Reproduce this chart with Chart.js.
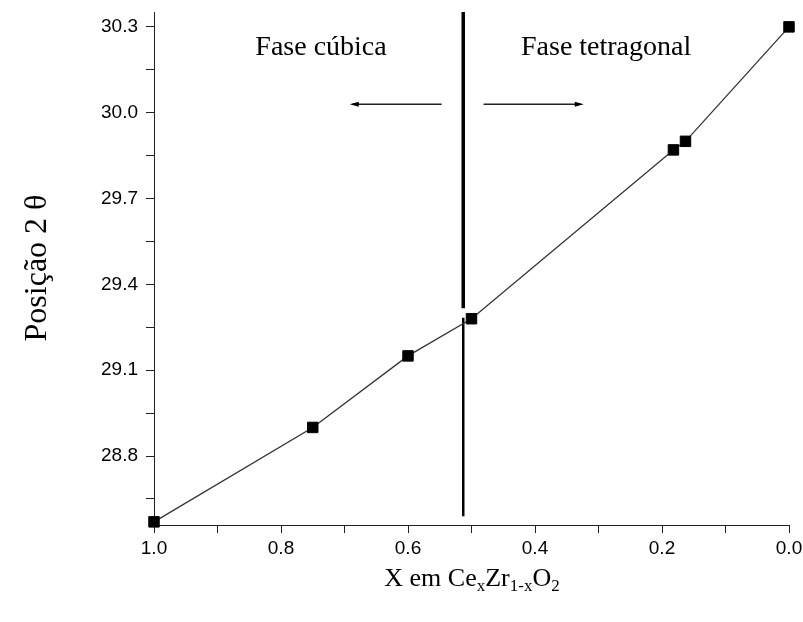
<!DOCTYPE html>
<html>
<head>
<meta charset="utf-8">
<script src="https://cdn.jsdelivr.net/npm/chart.js@4.4.1/dist/chart.umd.min.js"></script>
<style>
  html, body { margin: 0; padding: 0; background: #fff; }
  #wrap { width: 803px; height: 622px; }
</style>
</head>
<body>
<div id="wrap"><canvas id="cezr"></canvas></div>
<script>
// ---- data ----
const xValues = [1.0, 0.75, 0.6, 0.5, 0.182, 0.163, 0.0]
const yValues = [28.57, 28.90, 29.15, 29.28, 29.87, 29.90, 30.30]

const xTicks = [0, 0.1, 0.2, 0.3, 0.4, 0.5, 0.6, 0.7, 0.8, 0.9, 1.0]
const xMajor = [0, 0.2, 0.4, 0.6, 0.8, 1.0]
const yTicks = [28.65, 28.8, 28.95, 29.1, 29.25, 29.4, 29.55, 29.7, 29.85, 30.0, 30.15, 30.3]
const yMajor = [28.8, 29.1, 29.4, 29.7, 30.0, 30.3]

// phase boundary (vertical bar) and arrows
const boundaryX = 0.513
const boundaryUpper = [30.352, 29.317]
const boundaryLower = [29.283, 28.59]
const arrowY = 30.03
const arrowLeft = [0.547, 0.687]
const arrowRight = [0.481, 0.328]
const phaseLabels = ["Fase cúbica", "Fase tetragonal"]
const phaseLabelX = [0.737, 0.288]
const phaseLabelY = 30.2

const isIn = (list, v) => list.some(m => Math.abs(m - v) < 1e-6)

/////////// extra drawing: arrow heads, phase texts, axis titles ///////////
const decorPlugin = {
    id: "decor",
    afterDatasetsDraw(chart) {
        const ctx = chart.ctx
        const xs = chart.scales.x
        const ys = chart.scales.y
        ctx.save()
        // arrow heads
        ctx.fillStyle = "#000"
        const heads = [[arrowLeft[1], -1], [arrowRight[1], 1]]
        heads.forEach(([xv, dir]) => {
            const px = xs.getPixelForValue(xv)
            const py = ys.getPixelForValue(arrowY)
            ctx.beginPath()
            ctx.moveTo(px + dir * 3, py)
            ctx.lineTo(px - dir * 6, py - 2.5)
            ctx.lineTo(px - dir * 6, py + 2.5)
            ctx.closePath()
            ctx.fill()
        })
        // phase texts
        ctx.font = "28px 'Liberation Serif'"
        ctx.textAlign = "center"
        ctx.textBaseline = "alphabetic"
        phaseLabels.forEach((t, i) => {
            ctx.fillText(t, xs.getPixelForValue(phaseLabelX[i]), ys.getPixelForValue(phaseLabelY))
        })
        ctx.restore()
    },
    afterDraw(chart) {
        const ctx = chart.ctx
        ctx.save()
        ctx.fillStyle = "#000"
        // y title
        ctx.font = "32px 'Liberation Serif'"
        ctx.textAlign = "center"
        ctx.textBaseline = "middle"
        ctx.translate(38, 268)
        ctx.rotate(-Math.PI / 2)
        ctx.fillText("Posição 2 θ", 0, 0)
        ctx.restore()

        // x title with subscripts
        ctx.save()
        ctx.fillStyle = "#000"
        ctx.textBaseline = "alphabetic"
        ctx.textAlign = "left"
        const parts = [["X em Ce", false], ["x", true], ["Zr", false], ["1-x", true], ["O", false], ["2", true]]
        const big = "26px 'Liberation Serif'"
        const small = "17px 'Liberation Serif'"
        let total = 0
        parts.forEach(([t, sub]) => { ctx.font = sub ? small : big; total += ctx.measureText(t).width })
        let cx = 472 - total / 2
        const base = 586
        parts.forEach(([t, sub]) => {
            ctx.font = sub ? small : big
            ctx.fillText(t, cx, sub ? base + 5 : base)
            cx += ctx.measureText(t).width
        })
        ctx.restore()
    }
}

const seg = (x1, y1, x2, y2) => [{x: x1, y: y1}, {x: x2, y: y2}]

let ctx = document.getElementById("cezr").getContext("2d")
const myChart = new Chart(ctx, {
    type: "scatter",
    data: {
        datasets: [{
            label: "CexZr1-xO2",
            data: xValues.map((x, i) => ({x: x, y: yValues[i]})),
            showLine: true,
            borderColor: "#333",
            borderWidth: 1.3,
            pointStyle: "rect",
            pointRadius: 7.4,
            pointBackgroundColor: "#000",
            pointBorderColor: "#000",
            pointBorderWidth: 1,
            clip: false,
            order: 0
        }, {
            data: seg(boundaryX, boundaryUpper[0], boundaryX, boundaryUpper[1]),
            showLine: true, borderColor: "#000", borderWidth: 3.5, pointRadius: 0, clip: false, order: 1
        }, {
            data: seg(boundaryX, boundaryLower[0], boundaryX, boundaryLower[1]),
            showLine: true, borderColor: "#000", borderWidth: 2.5, pointRadius: 0, clip: false, order: 1
        }, {
            data: seg(arrowLeft[0], arrowY, arrowLeft[1], arrowY),
            showLine: true, borderColor: "#222", borderWidth: 1.5, pointRadius: 0, order: 1
        }, {
            data: seg(arrowRight[0], arrowY, arrowRight[1], arrowY),
            showLine: true, borderColor: "#222", borderWidth: 1.5, pointRadius: 0, order: 1
        }]
    },
    options: {
        responsive: true,
        maintainAspectRatio: false,
        animation: false,
        layout: { padding: { top: 12, right: 14, bottom: 0, left: 0 } },
        plugins: {
            legend: { display: false },
            tooltip: { enabled: false }
        },
        scales: {
            x: {
                type: "linear",
                reverse: true,
                min: 0,
                max: 1,
                afterBuildTicks: axis => { axis.ticks = xTicks.map(v => ({value: v})) },
                afterFit: axis => { axis.height = 97; axis.paddingLeft = 0; axis.paddingRight = 0 },
                grid: { drawOnChartArea: false, drawTicks: true, tickLength: 8, tickColor: "#222" },
                border: { display: true, color: "#222", width: 1 },
                ticks: {
                    autoSkip: false,
                    maxRotation: 0,
                    padding: 4,
                    color: "#000",
                    font: { family: "'Liberation Sans', Arial", size: 19 },
                    callback: v => isIn(xMajor, v) ? v.toFixed(1) : ""
                }
            },
            y: {
                type: "linear",
                min: 28.559,
                max: 30.352,
                afterBuildTicks: axis => { axis.ticks = yTicks.map(v => ({value: v})) },
                afterFit: axis => { axis.width = 154; axis.paddingTop = 0; axis.paddingBottom = 0 },
                grid: { drawOnChartArea: false, drawTicks: true, tickLength: 8, tickColor: "#222" },
                border: { display: true, color: "#222", width: 1 },
                ticks: {
                    autoSkip: false,
                    padding: 8,
                    color: "#000",
                    font: { family: "'Liberation Sans', Arial", size: 19 },
                    callback: v => isIn(yMajor, v) ? v.toFixed(1) : ""
                }
            }
        }
    },
    plugins: [decorPlugin]
})
</script>
</body>
</html>
